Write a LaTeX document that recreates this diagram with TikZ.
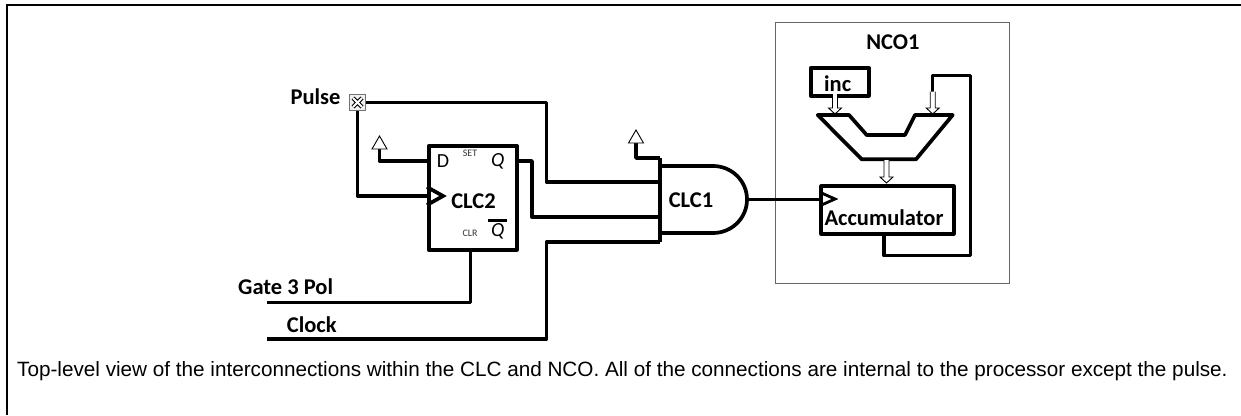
\documentclass[tikz,border=0pt]{standalone}
\usepackage{fontspec}
\setmainfont{Carlito}
\newfontfamily\capfont{Liberation Sans}
\tikzset{
  wire/.style={draw=black,line width=3.4pt,line join=round,line cap=butt},
  heavy/.style={draw=black,line width=3.7pt,line join=round},
  thinbox/.style={draw=black!60,line width=0.9pt},
  lab/.style={font=\bfseries\fontsize{22.5}{24}\selectfont,text=black,inner sep=0pt},
  small/.style={font=\fontsize{10}{12}\selectfont,text=black!80,inner sep=0pt},
  pin/.style={font=\fontsize{20}{22}\selectfont,text=black,inner sep=0pt},
  ipin/.style={font=\itshape\fontsize{20}{22}\selectfont,text=black,inner sep=0pt},
  hollow/.style={draw=black,fill=white,line width=0.9pt,line join=miter},
}
\newcommand{\hollowdown}[3]{% x, y-top, y-tip
  \fill[white] (#1-2.5,#2) rectangle (#1+2.5,#3-6);
  \draw[hollow] (#1-2.5,#2) -- (#1-2.5,#3-6) -- (#1-6.5,#3-6) -- (#1,#3) -- (#1+6.5,#3-6) -- (#1+2.5,#3-6) -- (#1+2.5,#2);
}
\newcommand{\hollowup}[2]{% x, y-tip
  \draw[hollow] (#1-7.5,#2+13) -- (#1,#2) -- (#1+7.5,#2+13) -- cycle;
}
\begin{document}
\begin{tikzpicture}[x=1pt,y=-1pt]
\useasboundingbox (0,0) rectangle (1241,415);
\fill[white] (0,0) rectangle (1241,415);
% frame
\draw[black,line width=2pt] (6.5,415) -- (6.5,5) -- (1241,5);
% NCO box
\node[thinbox,minimum width=234pt,minimum height=261pt,inner sep=0pt,anchor=north west] (nco) at (775,22) {};
\node[lab] (ncot) at (893,42) {NCO1};
% Flip-flop
\node[heavy,minimum width=88pt,minimum height=104pt,inner sep=0pt,anchor=north west] (ff) at (427,144) {};
\node[pin] (dl) at (443,161.5) {D};
\node[small] (setl) at (470,153) {SET};
\node[small] (clrl) at (470,233) {CLR};
\node[ipin] (ql) at (497.7,161.5) {Q};
\node[ipin] (qbl) at (497.7,231.5) {Q};
\draw[black,line width=3pt] (488,220) coordinate (qb1) -- (507,220) coordinate (qb2);
\node[lab] (clc2) at (473.5,201) {CLC2};
\path[draw=black,line width=3.7pt,miter limit=10] (427,187) coordinate (ck1) -- (443,196) coordinate (cktip) -- (427,205) coordinate (ck2);
% AND gate
\coordinate (gt) at (660,158);
\coordinate (gb) at (660,242);
\coordinate (in1) at (660,182);
\coordinate (in2) at (660,217);
\coordinate (in3) at (660,242);
\coordinate (gout) at (747,199.5);
\draw[heavy] (gt) -- (gb);
\draw[heavy] (660,166) -- (713,166) .. controls (731.8,166) and (747,181) .. (gout) .. controls (747,218) and (731.8,233) .. (713,233) -- (660,233);
\node[lab] (clc1) at (691,200.5) {CLC1};
% pulse pad
\node[draw=black!55,fill=black!6,line width=0.9pt,minimum size=16.5pt,inner sep=0pt] (pad) at (357.5,102.5) {};
\draw[black,line width=4pt] (pad.center) ++(-4.5,-4.5) -- ++(9,9) (pad.center) ++(-4.5,4.5) -- ++(9,-9);
\draw[white,line width=2pt] (pad.center) ++(-4.5,-4.5) -- ++(9,9) (pad.center) ++(-4.5,4.5) -- ++(9,-9);
\node[lab,anchor=east] (pulse) at (340.7,97) {Pulse};
\node[lab,anchor=west] (g3) at (238,287) {Gate 3 Pol};
\node[lab,anchor=west] (clk) at (286.7,325) {Clock};
\coordinate (g3s) at (267,302.5);
\coordinate (clks) at (267,339);
% wires
\draw[wire] (pad.east) -- (546.5,102.5) |- (in1);
\draw[wire] (pad.south) |- (ck1 |- cktip);
\coordinate (vcc1) at (379.5,149);
\draw[wire,line width=3.7pt] (ff.west |- 0,161) -| (vcc1);
\hollowup{379.5}{136}
\draw[wire] (ff.east |- 0,161) -- (532,161) |- (in2);
\draw[wire] (g3s) -- (470.5,302.5) -- (ff.south -| 470.5,0);
\draw[wire] (clks) -- (546.5,339) |- (in3);
\coordinate (vcc2) at (636,143);
\draw[wire,line width=3.7pt] (gt) -| (vcc2);
\hollowup{636}{130}
% NCO content
\node[heavy,minimum width=58pt,minimum height=28pt,inner sep=0pt,anchor=north west] (inc) at (809,66) {};
\node[lab] (inct) at (837.7,84) {inc};
\draw[heavy] (817.7,115) -- (849,115) -- (866.7,135) -- (905,135) -- (915,115) -- (952.7,115) -- (916,159.3) -- (861.7,159.3) -- cycle;
\node[heavy,minimum width=132.5pt,minimum height=47.5pt,inner sep=0pt,anchor=north west] (acc) at (819.3,184.3) {};
\node[lab] (acct) at (884,218) {Accumulator};
\draw[black,line width=2.8pt,miter limit=10] (821.5,193) -- (835,199) -- (821.5,205);
\draw[wire] (gout) -- (821,199.5);
\coordinate (fb) at (932.7,91.7);
\draw[wire] (acc.south -| 884,0) -- (884,255.7) -- (970.7,255.7) -- (970.7,75.7) -- (932.7,75.7) -- (fb);
\hollowdown{835}{94}{114}
\hollowdown{932.7}{91.7}{114}
\hollowdown{886.5}{160}{183}
% caption
\node[font=\capfont\fontsize{20.7}{23}\selectfont,anchor=west,inner sep=0pt,text=black] (cap) at (17,371) {Top-level view of the interconnections within the CLC and NCO. All of the connections are internal to the processor except the pulse.};
\end{tikzpicture}
\end{document}
